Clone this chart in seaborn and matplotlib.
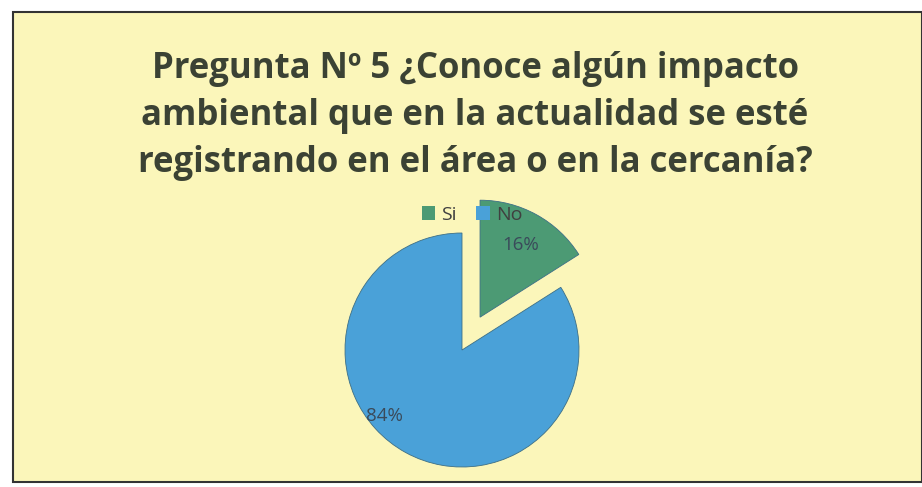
import matplotlib
matplotlib.use("Agg")
import matplotlib.pyplot as plt
import seaborn as sns
import numpy as np
from matplotlib.patches import Rectangle

categories = ["Si", "No"]
values = [16, 84]
pct_labels = ["16%", "84%"]
title = "Pregunta Nº 5 ¿Conoce algún impacto\nambiental que en la actualidad se esté\nregistrando en el área o en la cercanía?"

sns.set_theme(style="white")
plt.rcParams['font.family'] = ['Open Sans', 'DejaVu Sans']

colors = ["#4C9A74", "#4AA1D8"]
bg = "#FBF6BA"

fig = plt.figure(figsize=(9.22, 4.87), dpi=100)
fig.patch.set_facecolor("white")

# chart area background & border
fig.patches.append(Rectangle((13/922, 1-482/487), (922-13)/922, (482-12)/487,
                             transform=fig.transFigure, facecolor=bg,
                             edgecolor="#333333", linewidth=1.5, zorder=-5))

fig.text(475/922, 1-116/487, title, ha="center", va="center", fontsize=25,
         fontweight="bold", color="#3B4234", linespacing=1.4, zorder=3)

W = 351
ax = fig.add_axes([(462-W/2)/922, (487-350-W/2)/487, W/922, W/487])
ax.set_facecolor("none")
ax.set_zorder(2)
wedges, texts, autotexts = ax.pie(values, colors=colors, startangle=90, counterclock=False,
                                  explode=[0.32, 0.0], autopct=lambda p: f"{p:.0f}%",
                                  pctdistance=0.62, radius=1.0,
                                  wedgeprops=dict(linewidth=0.6, edgecolor="#3d6f86"),
                                  textprops=dict(color="#3a4a5a", fontsize=13.5))
ax.set_xlim(-1.5, 1.5)
ax.set_ylim(-1.5, 1.5)
ax.set_aspect("equal")
# reposition the labels like the original
autotexts[1].set_position((-0.66, -0.56))
autotexts[0].set_position((0.50, 0.90))

leg = ax.legend(wedges, categories, loc="center", bbox_to_anchor=((472-462+W/2)/W, (350-215+W/2)/W),
          ncol=2, frameon=False, fontsize=14, handlelength=0.7, handleheight=0.7,
          handletextpad=0.3, columnspacing=1.0, labelcolor="#404040")
for h in leg.legend_handles:
    h.set_linewidth(0)

fig.savefig("out.png", dpi=100, facecolor=fig.get_facecolor())
